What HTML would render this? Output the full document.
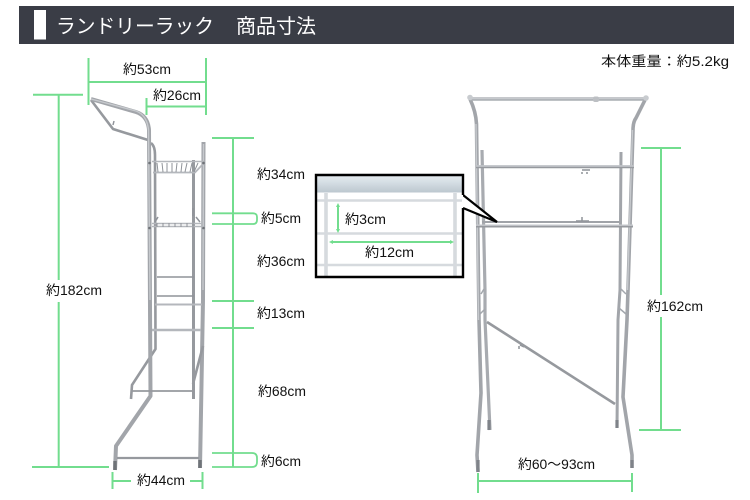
<!DOCTYPE html>
<html>
<head>
<meta charset="utf-8">
<style>
html,body{margin:0;padding:0;background:#fff;width:750px;height:500px;overflow:hidden}
svg{display:block}
text{font-family:"Liberation Sans","Noto Sans CJK JP",sans-serif;font-size:13.5px;fill:#111}
.g{stroke:#72dd8e;stroke-width:2;fill:none}
.t{stroke:#a2a5aa;stroke-width:3.6;fill:none;stroke-linejoin:round}
.h{stroke:#c6c9cd;stroke-width:1.4;fill:none;stroke-linejoin:round}
.d{stroke:#96999e;stroke-width:2.6;fill:none;stroke-linejoin:round}
.m{stroke:#b4b7bc;stroke-width:2;fill:none}
.n{stroke:#bfc2c6;stroke-width:1;fill:none}
.k{stroke:#8f9399;stroke-width:1.5;fill:none}
</style>
</head>
<body>
<svg width="750" height="500" viewBox="0 0 750 500" xmlns="http://www.w3.org/2000/svg">
<defs>
<linearGradient id="band" x1="0" y1="0" x2="0" y2="1">
<stop offset="0" stop-color="#e4eaee"/><stop offset=".35" stop-color="#d6dfe5"/><stop offset="1" stop-color="#bcc7cf"/>
</linearGradient>
</defs>

<!-- header -->
<rect x="19" y="6" width="715" height="38" fill="#3a3d46"/>
<rect x="34" y="10" width="12" height="29.5" fill="#fff"/>
<text x="56" y="33" textLength="158" lengthAdjust="spacingAndGlyphs" style="font-size:20px;fill:#fff">ランドリーラック</text>
<text x="236" y="33" textLength="80" lengthAdjust="spacingAndGlyphs" style="font-size:20px;fill:#fff">商品寸法</text>
<text x="601" y="66" textLength="128" lengthAdjust="spacingAndGlyphs">本体重量：約5.2kg</text>

<!-- left rack -->
<g>
<path class="d" d="M91 100 L113 129 L148 140"/>
<path class="k" d="M114 121 L113 125"/>
<path class="d" d="M151 143 Q155 146 155 155 L155.500 349 L132 385 L131 399"/>
<path class="d" d="M193.500 160 L193.500 399" style="stroke-width:3"/>
<path class="t" d="M91 99 L136 112 Q148 116 149 130 L150.500 396 L116 446 L115 470" style="stroke-width:4"/>
<path class="h" d="M91 99 L136 111 Q147 115 148.500 130 L150 300"/>
<path class="t" d="M203.500 142 L203 300 L200 468" style="stroke-width:4"/>
<path class="h" d="M203.500 144 L203 290"/>
<path class="d" d="M203 346 L193 384"/>
<!-- basket -->
<path class="m" d="M152 161.500 H204" style="stroke-width:1.600"/>
<path class="m" d="M153 172.500 H195 L204 163" style="stroke-width:1.800"/>
<path class="k" d="M157 163 L158 172 M162 163 L163 172 M167 163 L167 172 M172 163 L172 172 M177 163 L176 172 M182 163 L181 172 M187 163 L185 172 M192 163 L190 172 M198 163 L194 172" style="stroke-width:1"/>
<circle cx="149.500" cy="163" r="1.300" fill="#6f7378"/><circle cx="203.500" cy="163" r="1.300" fill="#6f7378"/>
<circle cx="149.500" cy="228" r="1.300" fill="#6f7378"/><circle cx="203.500" cy="228" r="1.300" fill="#6f7378"/>
<path class="k" d="M155 222 L158 217 M196 217 L200 222 M193 208 V216" />
<path class="m" d="M152 223.500 H203 M152 226.500 H203" style="stroke-width:1.600"/>
<path class="k" d="M157 223 V227 M163 223 V227 M169 223 V227 M175 223 V227 M181 223 V227 M187 223 V227 M193 223 V227" style="stroke-width:1"/>
<path class="k" d="M157 277 H194 M157 296 H194"/>
<path class="m" d="M155 304.500 H202"/>
<path class="m" d="M152 330 H201" style="stroke-width:2.400"/>
<path class="d" d="M132 391 H194" style="stroke-width:1.800"/>
<path class="d" d="M117 458 H199" style="stroke-width:2.200"/>
<path class="d" d="M115 461 V470 M200 460 V468" style="stroke:#6f7378;stroke-width:3.400"/>
</g>

<!-- right rack -->
<g>
<path class="d" d="M482 150 L485 290 L485 320 L490 430" style="stroke-width:3.200;stroke:#a8abb0"/>
<path class="d" d="M621 152 L620 290 L618 320 L617 428" style="stroke-width:3;stroke:#a2a5aa"/>
<path class="t" d="M470 99 Q476 112 476.500 124 L477 165 L479 320 L481 393 L477 455 L478 472"/>
<path class="t" d="M645 100 L636 118 Q633 122 633 130 L628 290 L627 320 L623 397 L632 455 L632 468"/>
<path class="h" d="M476 124 L476.500 165 L478.500 320 M632.500 130 L627.500 290"/>
<path class="t" d="M470 99 H646" style="stroke:#a9adb2;stroke-width:3.600"/>
<path class="h" d="M470 98.500 H646"/>
<circle cx="470" cy="97.500" r="2.800" fill="#c8cbcf"/>
<circle cx="646" cy="98" r="2.800" fill="#c8cbcf"/>
<rect x="593" y="96.500" width="6" height="5.500" rx="2" fill="#bcbfc3"/>
<path class="d" d="M476 166.800 H634" style="stroke-width:3"/>
<path class="h" d="M476 166 H634"/>
<path class="d" d="M482 222 H620" style="stroke-width:2;stroke:#a0a3a8"/>
<path class="d" d="M476 226 H633" style="stroke-width:3"/>
<path class="h" d="M476 225.200 H633"/>
<path class="k" d="M582 170 H590 M582 172 V174 M587 172 V174 M582 217 V221 M576 221 H589"/>
<path class="k" d="M519 346 V349 M520 345 L524 347"/>
<path class="d" d="M487 322 L615 404" style="stroke-width:2.600"/>
<path class="k" d="M620 288 L626 294 M619 308 L626 314 M480 314 L485 309 M481 294 L484 289" style="stroke:#a3a7ad"/>
<path class="d" d="M478 460 V472 M632 460 V468 M489 420 V430 M617 420 V428" style="stroke:#7f8389;stroke-width:3.200"/>
</g>

<!-- inset -->
<path d="M463 195 L497 222 L463 208" fill="#fff" stroke="#000" stroke-width="2.200"/>
<rect x="316" y="175" width="147" height="102" fill="#fff"/>
<rect x="317" y="176" width="145" height="16.500" fill="url(#band)"/>
<path d="M317 200.500 H462 M317 233.500 H462 M317 265 H462" stroke="#d6dade" stroke-width="2.400" fill="none"/>
<path d="M326 193 V276 M455 193 V276" stroke="#d6dade" stroke-width="3.600" fill="none"/>
<path d="M463 195 V175 H316 V277 H463 V208" fill="none" stroke="#000" stroke-width="2.400"/>
<path d="M338 205 V231" class="g"/>
<path d="M336 207 L338 203 L340 207 Z M336 229 L338 233 L340 229 Z" fill="#72dd8e"/>
<path d="M331 242 H452" class="g"/>
<path d="M333 240 L329 242 L333 244 Z M450 240 L454 242 L450 244 Z" fill="#72dd8e"/>
<text x="345" y="224" textLength="41" lengthAdjust="spacingAndGlyphs">約3cm</text>
<text x="365" y="257" textLength="49" lengthAdjust="spacingAndGlyphs">約12cm</text>

<!-- left dims -->
<path class="g" d="M88.500 58 V105 M206 58 V115 M89 82 H206 M146.500 98 V115 M147 106.500 H206"/>
<path class="g" d="M33 94.700 H83 M58.700 95 V280 M58.700 302 V467 M32 467 H109"/>
<path class="g" d="M212 138 H254 M233 138 V467"/>
<path class="g" d="M212 213.300 H253 Q257 213.300 257 217 V220 Q257 224 253 224 H212" style="stroke-width:1.800"/>
<path class="g" d="M212 301 H254 M212 328 H254"/>
<path class="g" d="M212 453 H252 Q257 453 257 458 V462 Q257 467 252 467 H212" style="stroke-width:1.800"/>
<path class="g" d="M112.500 472 V489 M202.500 472 V489 M113 481 H131 M190 481 H202"/>

<!-- right dims -->
<path class="g" d="M641 148 H681 M661 148 V295 M661 317 V430 M639 430 H681"/>
<path class="g" d="M478 473 V493 M632 473 V492 M478 481 H632"/>

<!-- labels -->
<text x="123" y="74" textLength="48" lengthAdjust="spacingAndGlyphs">約53cm</text>
<text x="153" y="100" textLength="48" lengthAdjust="spacingAndGlyphs">約26cm</text>
<text x="257" y="179" textLength="48" lengthAdjust="spacingAndGlyphs">約34cm</text>
<text x="261" y="223" textLength="40" lengthAdjust="spacingAndGlyphs">約5cm</text>
<text x="257" y="266" textLength="48" lengthAdjust="spacingAndGlyphs">約36cm</text>
<text x="46" y="295" textLength="56" lengthAdjust="spacingAndGlyphs">約182cm</text>
<text x="257" y="318" textLength="48" lengthAdjust="spacingAndGlyphs">約13cm</text>
<text x="258" y="396" textLength="48" lengthAdjust="spacingAndGlyphs">約68cm</text>
<text x="261" y="466" textLength="40" lengthAdjust="spacingAndGlyphs">約6cm</text>
<text x="137" y="485" textLength="48" lengthAdjust="spacingAndGlyphs">約44cm</text>
<text x="518" y="469" textLength="77" lengthAdjust="spacingAndGlyphs">約60〜93cm</text>
<text x="647" y="311" textLength="56" lengthAdjust="spacingAndGlyphs">約162cm</text>
</svg>
</body>
</html>
